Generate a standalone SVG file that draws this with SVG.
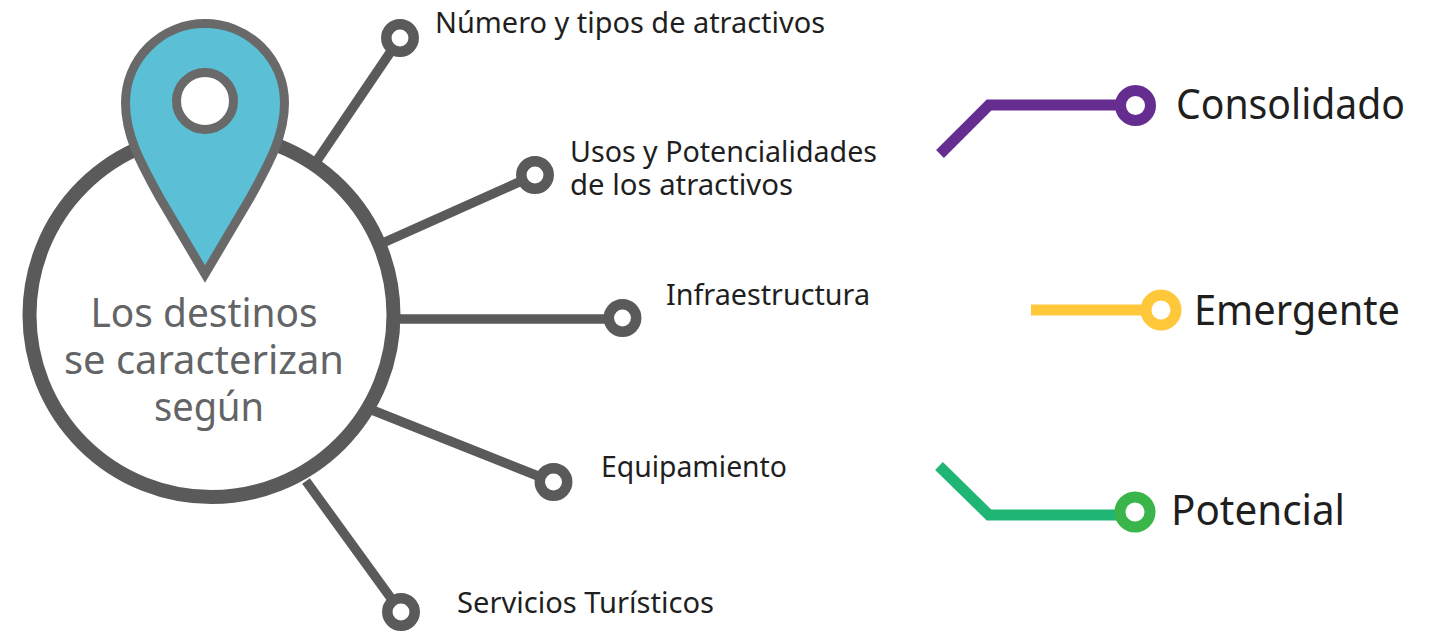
<svg xmlns="http://www.w3.org/2000/svg" width="1436" height="633" viewBox="0 0 1436 633">
<style>
.l{fill:none;stroke:#5a5a5a;stroke-width:9.5}
.d{fill:#fff;stroke:#5a5a5a;stroke-width:10.5}
.h{fill:none;stroke-width:11}
.r{fill:#fff;stroke-width:11}
text{font-family:"Noto Sans","Open Sans",sans-serif;fill:#1f1f1f}
.s{font-size:29px}
.b{font-size:41px}
.c{font-size:40px;fill:#636466;text-anchor:middle}
</style>
<rect width="1436" height="633" fill="#fff"/>
<g id="connectors">
<path class="l" d="M316 162L400 38"/>
<path class="l" d="M385 242L535 175"/>
<path class="l" d="M398 319H622"/>
<path class="l" d="M372 410L553 482"/>
<path class="l" d="M306 481L401 612"/>
<path class="h" stroke="#662d91" d="M940 154L989 105H1136"/>
<path class="h" stroke="#ffc73a" d="M1031 310H1161"/>
<path class="h" stroke="#1fb574" d="M939 466L989 515H1135"/>
</g>
<g id="main"><circle cx="211.500" cy="315" r="182" fill="#fff" stroke="#5a5a5a" stroke-width="14"/>
<text class="c" x="204" y="327" textLength="227" lengthAdjust="spacingAndGlyphs">Los destinos</text><text class="c" x="204" y="374" textLength="280" lengthAdjust="spacingAndGlyphs">se caracterizan</text><text class="c" x="209" y="421" textLength="110" lengthAdjust="spacingAndGlyphs">según</text></g>
<g id="pin"><path d="M205 274L160 198C140 162 125.500 135 125.500 103A79.500 79.500 0 0 1 284.500 103C284.500 135 270 162 250 198Z" fill="#5bbfd6" stroke="#696969" stroke-width="9"/><circle cx="205" cy="101" r="28.500" fill="#fff" stroke="#696969" stroke-width="9"/></g>
<g id="n1"><circle class="d" cx="400" cy="38" r="13.700"/><text class="s" x="435" y="33" textLength="390" lengthAdjust="spacingAndGlyphs">Número y tipos de atractivos</text></g>
<g id="n2"><circle class="d" cx="535" cy="175" r="13.700"/><text class="s" x="570" y="162" textLength="307" lengthAdjust="spacingAndGlyphs">Usos y Potencialidades</text><text class="s" x="570" y="195" textLength="223" lengthAdjust="spacingAndGlyphs">de los atractivos</text></g>
<g id="n3"><circle class="d" cx="622.500" cy="318" r="13.700"/><text class="s" x="666" y="305" textLength="204" lengthAdjust="spacingAndGlyphs">Infraestructura</text></g>
<g id="n4"><circle class="d" cx="553.500" cy="482" r="13.700"/><text class="s" x="601" y="477" textLength="186" lengthAdjust="spacingAndGlyphs">Equipamiento</text></g>
<g id="n5"><circle class="d" cx="401" cy="612" r="13.700"/><text class="s" x="457" y="613" textLength="257" lengthAdjust="spacingAndGlyphs">Servicios Turísticos</text></g>
<g id="consolidado"><circle class="r" stroke="#662d91" cx="1135.500" cy="105.500" r="15"/><text class="b" x="1176" y="119" textLength="229" lengthAdjust="spacingAndGlyphs">Consolidado</text></g>
<g id="emergente"><circle class="r" stroke="#ffc73a" cx="1161" cy="310" r="15"/><text class="b" x="1194" y="325" textLength="206" lengthAdjust="spacingAndGlyphs">Emergente</text></g>
<g id="potencial"><circle class="r" stroke="#39b54a" cx="1135" cy="512" r="15"/><text class="b" x="1171" y="525" textLength="174" lengthAdjust="spacingAndGlyphs">Potencial</text></g>
</svg>
